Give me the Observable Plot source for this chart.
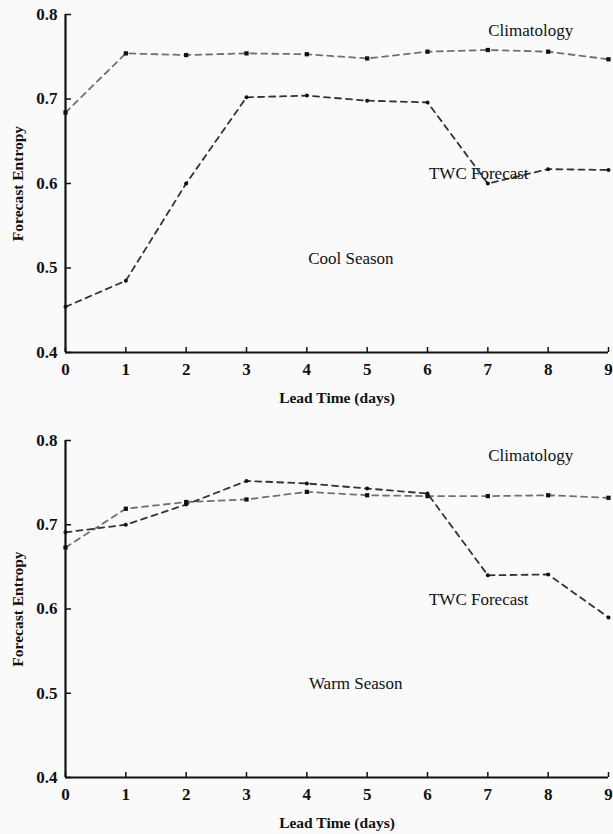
<!DOCTYPE html>
<html>
<head>
<meta charset="utf-8">
<script src="https://cdn.jsdelivr.net/npm/d3@7"></script>
<script src="https://cdn.jsdelivr.net/npm/@observablehq/plot@0.6"></script>
<style>
  html, body { margin: 0; padding: 0; background: #fafafa; }
  #chart { width: 613px; }
  #chart svg { display: block; background: #fafafa; }
</style>
</head>
<body>
<div id="chart"></div>
<script>
// ---- data ----
const leadDays = [0, 1, 2, 3, 4, 5, 6, 7, 8, 9];
const coolClimatology = [0.684, 0.754, 0.752, 0.754, 0.753, 0.748, 0.756, 0.758, 0.756, 0.747];
const coolTWC        = [0.454, 0.485, 0.600, 0.702, 0.704, 0.698, 0.696, 0.600, 0.617, 0.616];
const warmClimatology = [0.673, 0.719, 0.727, 0.730, 0.739, 0.735, 0.734, 0.734, 0.735, 0.732];
const warmTWC        = [0.691, 0.700, 0.724, 0.752, 0.749, 0.743, 0.737, 0.640, 0.641, 0.590];
const xTicks = [0, 1, 2, 3, 4, 5, 6, 7, 8, 9];
const yTicks = [0.4, 0.5, 0.6, 0.7, 0.8];
const seriesNames = ["Climatology", "TWC Forecast"];
const xTitle = "Lead Time (days)";
const yTitle = "Forecast Entropy";

const serif = "'Liberation Serif', 'DejaVu Serif', serif";

function panel(clim, twc, season, layout) {
  const climRows = leadDays.map((d, i) => ({day: d, v: clim[i]}));
  const twcRows = leadDays.map((d, i) => ({day: d, v: twc[i]}));
  return Plot.plot({
    width: 613,
    height: 417,
    marginTop: layout.top,
    marginBottom: layout.bottom,
    marginLeft: 65,
    marginRight: 5,
    style: {background: "#fafafa", fontFamily: serif},
    x: {domain: [0, 9], axis: null},
    y: {domain: [0.4, 0.8], axis: null},
    marks: [
      // lines
      Plot.line(climRows, {x: "day", y: "v", stroke: "#707070", strokeWidth: 1.8, strokeDasharray: "6,5"}),
      Plot.line(twcRows, {x: "day", y: "v", stroke: "#333", strokeWidth: 1.8, strokeDasharray: "6,5"}),
      Plot.dot(climRows, {x: "day", y: "v", symbol: "square", r: 2.4, fill: "#111", stroke: "none"}),
      Plot.dot(twcRows, {x: "day", y: "v", symbol: "circle", r: 2.0, fill: "#111", stroke: "none"}),
      // axes lines
      Plot.ruleX([0], {x: d => d, y1: 0.4, y2: 0.8, stroke: "#111", strokeWidth: 2.2}),
      Plot.ruleY([0.4], {y: d => d, x1: 0, x2: 9, stroke: "#111", strokeWidth: 2.2}),
      // inward ticks
      Plot.ruleX(xTicks, {x: d => d, y1: 0.4, y2: 0.4, insetTop: -5, stroke: "#111", strokeWidth: 1.5}),
      Plot.ruleY(yTicks, {y: d => d, x1: 0, x2: 0, insetRight: -6, stroke: "#111", strokeWidth: 1.5}),
      // tick labels
      Plot.text(xTicks, {x: d => d, y: 0.4, dy: 17, text: d => String(d), fontSize: 17, fontWeight: "bold", fill: "#111"}),
      Plot.text(yTicks, {x: 0, y: d => d, dx: -8, textAnchor: "end", text: d => d.toFixed(1), fontSize: 17, fontWeight: "bold", fill: "#111"}),
      // axis titles
      Plot.text([xTitle], {x: 4.5, y: 0.4, dy: 46, text: d => d, fontSize: 15.5, fontWeight: "bold", fill: "#111"}),
      Plot.text([yTitle], {x: 0, y: 0.6, dx: -47, rotate: -90, text: d => d, fontSize: 15.5, fontWeight: "bold", fill: "#111"}),
      // annotations
      Plot.text([seriesNames[0]], {x: 7.71, y: layout.climY, text: d => d, fontSize: 17, fill: "#111"}),
      Plot.text([seriesNames[1]], {x: 6.85, y: layout.twcY, text: d => d, fontSize: 17, fill: "#111"}),
      Plot.text([season], {x: layout.seasonX, y: 0.511, text: d => d, fontSize: 17, fill: "#111"})
    ]
  });
}

const chart = document.getElementById("chart");
chart.appendChild(panel(coolClimatology, coolTWC, "Cool Season", {top: 14, bottom: 65, climY: 0.781, twcY: 0.612, seasonX: 4.73}));
chart.appendChild(panel(warmClimatology, warmTWC, "Warm Season", {top: 23, bottom: 57, climY: 0.782, twcY: 0.611, seasonX: 4.81}));
</script>
</body>
</html>
